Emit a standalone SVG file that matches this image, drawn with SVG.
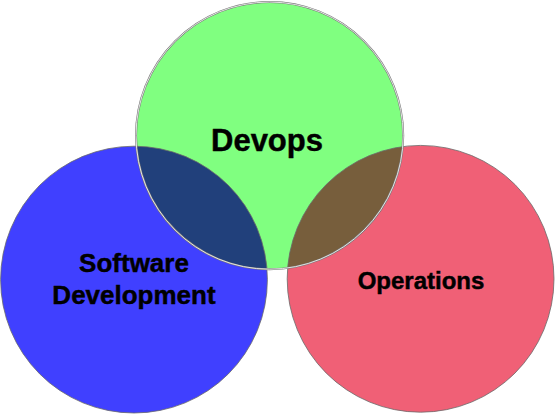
<svg xmlns="http://www.w3.org/2000/svg" width="555" height="415" viewBox="0 0 555 415">
<defs>
<style>
.lbl{font-family:"Liberation Sans",Arial,Helvetica,sans-serif;font-weight:bold;fill:#000;stroke:#000;stroke-width:0.45;text-anchor:middle}
.edge{fill:none;stroke:#6a6a6a;stroke-width:0.8}
</style>
<clipPath id="clipGreen"><circle cx="269.6" cy="135.6" r="133.6"/></clipPath>
</defs>
<rect width="555" height="415" fill="#ffffff"/>
<g id="software-development">
<circle cx="134" cy="279.6" r="133.4" fill="#4040FF"/>
</g>
<g id="operations">
<circle cx="420.6" cy="278.8" r="133.4" fill="#F06076"/>
</g>
<g id="devops">
<circle cx="269.6" cy="135.6" r="133.6" fill="#80FF80"/>
<g clip-path="url(#clipGreen)">
<circle cx="134" cy="279.6" r="133.4" fill="#21407B"/>
<circle cx="420.6" cy="278.8" r="133.4" fill="#775E3C"/>
</g>
</g>
<g id="outlines">
<circle class="edge" cx="134" cy="279.6" r="133.4"/>
<circle class="edge" cx="420.6" cy="278.8" r="133.4"/>
<circle cx="269.6" cy="135.6" r="133.6" fill="none" stroke="#777" stroke-width="2"/>
<circle cx="269.6" cy="135.6" r="133.6" fill="none" stroke="#fff" stroke-width="0.8"/>
</g>
<g id="labels">
<text class="lbl" x="267" y="151" font-size="31">Devops</text>
<text class="lbl" x="134" y="272" font-size="26">Software</text>
<text class="lbl" x="134" y="303.5" font-size="26">Development</text>
<text class="lbl" x="421" y="288.5" font-size="24">Operations</text>
</g>
</svg>
